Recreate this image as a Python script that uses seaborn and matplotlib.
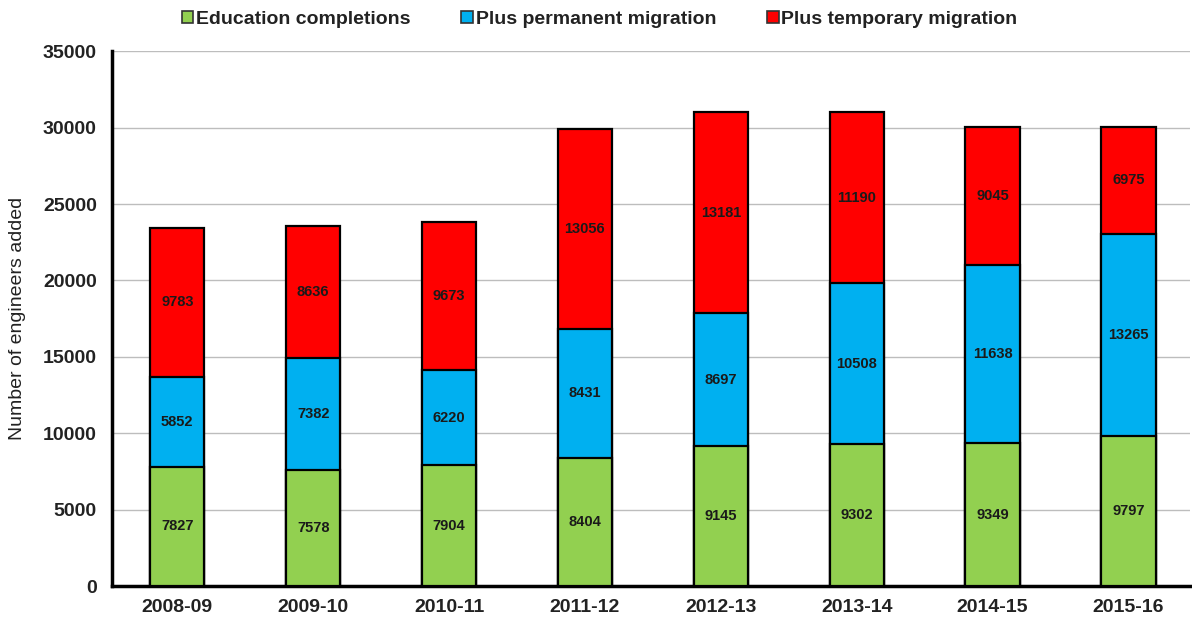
import matplotlib
matplotlib.use("Agg")
import matplotlib.pyplot as plt
import seaborn as sns
import numpy as np
import pandas as pd
from matplotlib.patches import Patch

years = ["2008-09", "2009-10", "2010-11", "2011-12", "2012-13", "2013-14", "2014-15", "2015-16"]
education = [7827, 7578, 7904, 8404, 9145, 9302, 9349, 9797]
permanent = [5852, 7382, 6220, 8431, 8697, 10508, 11638, 13265]
temporary = [9783, 8636, 9673, 13056, 13181, 11190, 9045, 6975]
series_names = ["Education completions", "Plus permanent migration", "Plus temporary migration"]
colors = ["#92D050", "#00B0F0", "#FF0000"]

sns.set_theme(style="white")
plt.rcParams["font.family"] = ["Liberation Sans", "DejaVu Sans"]

fig = plt.figure(figsize=(11.92, 6.17), dpi=100)
ax = fig.add_axes([0.094, 0.050, 0.904, 0.867])

edu = np.array(education)
perm = np.array(permanent)
temp = np.array(temporary)
df = pd.DataFrame({
    "year": years,
    "l1": edu,
    "l2": edu + perm,
    "l3": edu + perm + temp,
})

for col, c in zip(["l3", "l2", "l1"], colors[::-1]):
    sns.barplot(data=df, x="year", y=col, color=c, width=0.40, saturation=1,
                edgecolor="black", linewidth=1.6, ax=ax, zorder=3)

# value labels centered in each segment
for i in range(len(years)):
    segs = [(0, edu[i], edu[i]), (edu[i], perm[i], perm[i]), (edu[i] + perm[i], temp[i], temp[i])]
    for base, h, v in segs:
        ax.text(i, base + h / 2, f"{v}", ha="center", va="center", fontsize=10.5,
                fontweight="bold", color="#1a1a1a", zorder=5)

ax.set_ylim(0, 35000)
ax.set_xlim(-0.48, 7.45)
ax.set_yticks(np.arange(0, 35001, 5000))
ax.set_yticklabels([str(v) for v in range(0, 35001, 5000)], fontsize=14, fontweight="bold",
                   color="#222222")
ax.set_xticks(range(len(years)))
ax.set_xticklabels(years, fontsize=14, fontweight="bold", color="#222222")
ax.set_xticks(np.arange(0.5, 7, 1.0), minor=True)
ax.tick_params(axis="x", which="major", length=0, pad=9)
ax.tick_params(axis="x", which="minor", length=4, width=2, color="black", direction="out")
ax.tick_params(axis="y", length=5, width=1.5, color="black", direction="out", pad=6)
ax.yaxis.grid(True, color="#bdbdbd", linewidth=1.0, zorder=0)
ax.set_axisbelow(True)
ax.set_xlabel("")
ax.set_ylabel("Number of engineers added", fontsize=14, color="#222222")
ax.yaxis.set_label_coords(-0.080, 0.5)

for s in ["top", "right"]:
    ax.spines[s].set_visible(False)
for s in ["left", "bottom"]:
    ax.spines[s].set_visible(True)
    ax.spines[s].set_color("black")
    ax.spines[s].set_linewidth(2.5)

handles = [Patch(facecolor=c, edgecolor="#333333", linewidth=1.2) for c in colors]
fig.legend(handles, series_names, loc="center", bbox_to_anchor=(0.503, 0.969), ncol=3,
           frameon=False, prop={"weight": "bold", "size": 14}, handlelength=0.6,
           handleheight=0.6, handletextpad=0.15, columnspacing=2.6,
           labelcolor="#222222")

fig.savefig("out.png", dpi=100)
